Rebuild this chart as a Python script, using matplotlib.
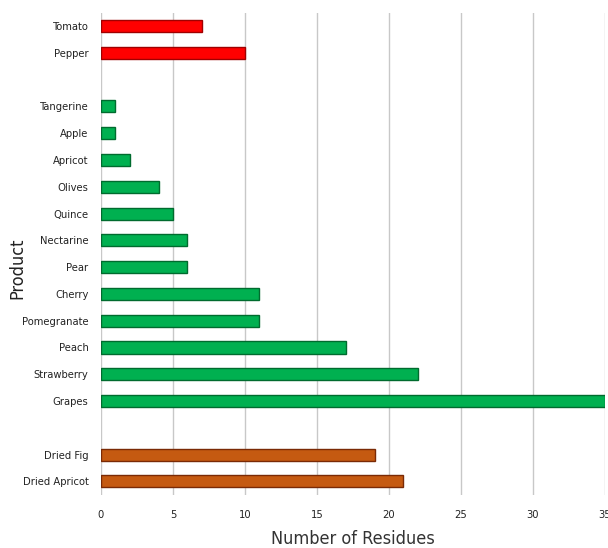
import numpy as np
import matplotlib.pyplot as plt

products = ["Tomato", "Pepper", "", "Tangerine", "Apple", "Apricot", "Olives", "Quince",
            "Nectarine", "Pear", "Cherry", "Pomegranate", "Peach", "Strawberry", "Grapes",
            "", "Dried Fig", "Dried Apricot"]
residues = [7, 10, 0, 1, 1, 2, 4, 5, 6, 6, 11, 11, 17, 22, 35, 0, 19, 21]
groups = ["veg", "veg", None, "fruit", "fruit", "fruit", "fruit", "fruit", "fruit", "fruit",
          "fruit", "fruit", "fruit", "fruit", "fruit", None, "dried", "dried"]

fill = {"veg": "#FF0000", "fruit": "#00B050", "dried": "#C55A11"}
edge = {"veg": "#A00000", "fruit": "#006B2E", "dried": "#7A2A05"}

plt.rcParams['font.family'] = ['DejaVu Sans']
plt.rcParams['font.stretch'] = 'condensed'

fig = plt.figure(figsize=(6.08, 5.48), dpi=100)
ax = fig.add_axes([0.166, 0.097, 0.829, 0.88])

ys = np.arange(len(products))
for y, v, g in zip(ys, residues, groups):
    if g is None:
        continue
    ax.barh(y, v, height=0.45, color=fill[g], edgecolor=edge[g], linewidth=1.0, zorder=3)

ax.set_xlim(0, 35)
ax.set_ylim(len(products) - 0.5, -0.5)
ax.set_xticks(np.arange(0, 36, 5))
ax.set_yticks(ys)
ax.set_yticklabels(products)
ax.tick_params(axis='both', length=0, labelsize=8, colors='#222222')
ax.tick_params(axis='x', pad=11)
ax.tick_params(axis='y', pad=9)
ax.grid(axis='x', color='#c8c8c8', linewidth=1.0, zorder=0)
for s in ax.spines.values():
    s.set_visible(False)

ax.set_xlabel("Number of Residues", fontsize=13, color='#333333')
ax.xaxis.set_label_coords(0.5, -0.072)
ax.set_ylabel("Product", fontsize=13, color='#222222')
ax.yaxis.set_label_coords(-0.147, 0.47)

fig.savefig("out.png", dpi=100)
